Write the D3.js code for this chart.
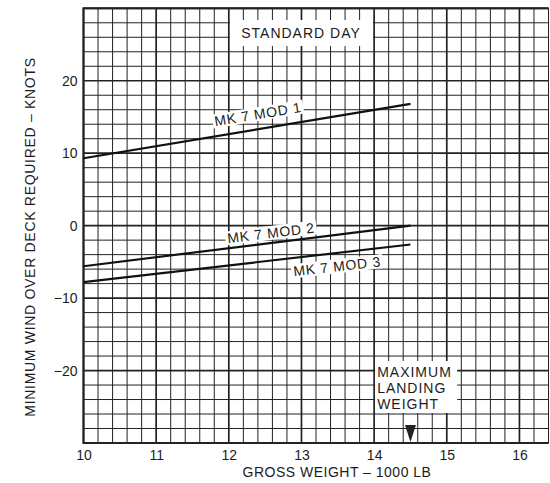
<!DOCTYPE html>
<html><head><meta charset="utf-8">
<script src="https://cdn.jsdelivr.net/npm/d3@7"></script>
<style>
body{margin:0;background:#fff;}
text{font-family:"Liberation Sans",Arial,Helvetica,sans-serif;fill:#1c1c1c;}
</style></head>
<body><svg id="c" width="550" height="483"></svg>
<script>
// ---- data ----
const weights = [10, 14.5];                 // gross weight, 1000 lb
const mod1 = [9.3, 16.8];                   // MK 7 MOD 1 (knots)
const mod2 = [-5.6, 0.0];                   // MK 7 MOD 2
const mod3 = [-7.8, -2.6];                  // MK 7 MOD 3
const seriesNames = ["MK 7 MOD 1", "MK 7 MOD 2", "MK 7 MOD 3"];
const xTicks = [10, 11, 12, 13, 14, 15, 16];
const yTicks = [-20, -10, 0, 10, 20];
const maxLandingWeight = 14.5;

const svg = d3.select("#c");
const x = d3.scaleLinear().domain([10, 16.4]).range([83.5, 548.5]);
const y = d3.scaleLinear().domain([-30, 30]).range([443, 8.3]);
const ink = "#222";

// grid
const g = svg.append("g");
const xs = d3.range(0, 33).map(i => 10 + i * 0.2);
const ys = d3.range(0, 31).map(i => -30 + i * 2);
g.selectAll(".vx").data(xs).join("line")
  .attr("x1", d => x(d)).attr("x2", d => x(d))
  .attr("y1", y(-30)).attr("y2", y(30))
  .attr("stroke", ink)
  .attr("stroke-width", d => Math.abs(d - Math.round(d)) < 1e-6 ? 1.7 : 1);
g.selectAll(".hy").data(ys).join("line")
  .attr("y1", d => y(d)).attr("y2", d => y(d))
  .attr("x1", x(10)).attr("x2", x(16.4))
  .attr("stroke", ink)
  .attr("stroke-width", d => d % 10 === 0 ? 1.7 : 1);
// frame
svg.append("path")
  .attr("d", `M${x(16.4)},${y(30)}H${x(10)}V${y(-30)}H${x(16.4)}`)
  .attr("fill", "none").attr("stroke", ink).attr("stroke-width", 2);

// white boxes for annotations
svg.append("rect").attr("x", 230).attr("y", 20).attr("width", 143).attr("height", 26).attr("fill", "#fff");
svg.append("rect").attr("x", x(14.0) + 1).attr("y", 361).attr("width", 82).attr("height", 52).attr("fill", "#fff");

// axes (labels only)
const xAxis = d3.axisBottom(x).tickValues(xTicks).tickSize(0).tickFormat(d3.format("d"));
const xa = svg.append("g").attr("transform", `translate(0,${y(-30)})`).call(xAxis);
xa.select(".domain").remove();
xa.selectAll("text").attr("y", 17).attr("dy", "0").style("font-size", "14px");

const yAxis = d3.axisLeft(y).tickValues(yTicks).tickSize(0)
  .tickFormat(d => d < 0 ? "\u2212" + Math.abs(d) : String(d));
const ya = svg.append("g").attr("transform", `translate(${x(10)},0)`).call(yAxis);
ya.select(".domain").remove();
ya.selectAll("text").attr("x", -6).style("font-size", "14px");

// titles
svg.append("text").attr("x", 337).attr("y", 477).attr("text-anchor", "middle")
  .style("font-size", "14px").style("letter-spacing", "0.5px").text("GROSS WEIGHT \u2013 1000 LB");
svg.append("text").attr("transform", "translate(30,237) rotate(-90)").attr("text-anchor", "middle")
  .attr("dy", "0.36em").style("font-size", "14px").style("letter-spacing", "0.7px")
  .text("MINIMUM WIND OVER DECK REQUIRED \u2013 KNOTS");

svg.append("text").attr("x", 301).attr("y", 38).attr("text-anchor", "middle")
  .style("font-size", "14px").style("letter-spacing", "1px").text("STANDARD DAY");

const ml = svg.append("text").attr("x", x(14.0) + 3).attr("y", 377)
  .style("font-size", "14px").style("letter-spacing", "1px");
["MAXIMUM", "LANDING", "WEIGHT"].forEach((t, i) =>
  ml.append("tspan").attr("x", x(14.0) + 3).attr("y", 377 + i * 16).text(t));

// arrow
const ax = x(maxLandingWeight);
svg.append("path").attr("d", `M${ax - 5.5},425L${ax + 5.5},425L${ax},442Z`).attr("fill", ink);

// series lines and labels
const series = [mod1, mod2, mod3];
const labelAt = [[12.40, 15.4], [12.58, -1.0], [13.49, -5.6]];
const line = d3.line().x(d => x(d[0])).y(d => y(d[1]));
const labG = svg.append("g");
series.forEach((s, i) => {
  const ang = Math.atan2(y(s[1]) - y(s[0]), x(weights[1]) - x(weights[0])) * 180 / Math.PI;
  const gg = labG.append("g").attr("transform", `translate(${x(labelAt[i][0])},${y(labelAt[i][1])}) rotate(${ang})`);
  const t = gg.append("text").attr("text-anchor", "middle").attr("dy", "0.36em")
    .style("font-size", "14px").style("letter-spacing", "0.7px").text(seriesNames[i]);
  const bb = t.node().getBBox();
  gg.insert("rect", "text").attr("x", bb.x - 2).attr("y", bb.y + 1).attr("width", bb.width + 4)
    .attr("height", bb.height - 2).attr("fill", "#fff");
});
series.forEach((s, i) => {
  svg.append("path").attr("d", line(weights.map((w, j) => [w, s[j]])))
    .attr("fill", "none").attr("stroke", "#111").attr("stroke-width", 2.2);
});
</script></body></html>
